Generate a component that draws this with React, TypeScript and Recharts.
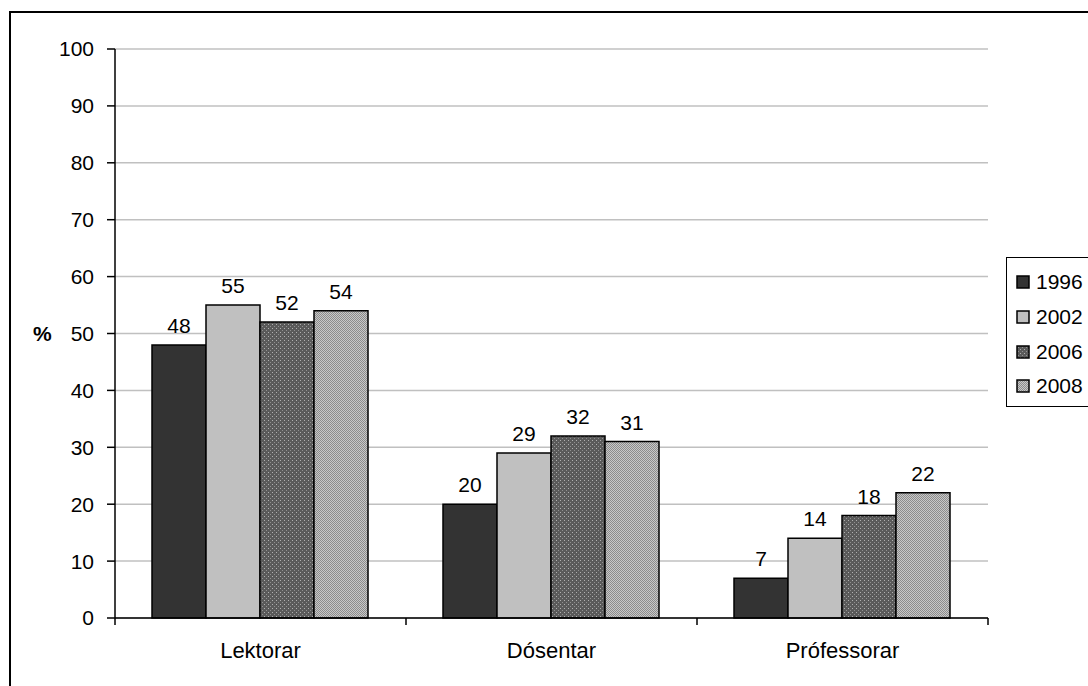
import React from 'react';
import { BarChart, Bar, XAxis, YAxis, CartesianGrid, LabelList } from 'recharts';

const categories = ['Lektorar', 'Dósentar', 'Prófessorar'];
const seriesNames = ['1996', '2002', '2006', '2008'];
const v1996 = [48, 20, 7];
const v2002 = [55, 29, 14];
const v2006 = [52, 32, 18];
const v2008 = [54, 31, 22];
const yTicks = [0, 10, 20, 30, 40, 50, 60, 70, 80, 90, 100];

const seriesValues = [v1996, v2002, v2006, v2008];
const fills = ['#333333', '#c0c0c0', 'url(#pat2006)', 'url(#pat2008)'];

const data = categories.map((c, i) => {
  const row: any = { name: c };
  seriesNames.forEach((s, k) => { row[s] = seriesValues[k][i]; });
  return row;
});

const FONT = 'Liberation Sans, Arial, sans-serif';

const XTick = (props: any) => {
  const { x, y, payload, index, width, visibleTicksCount } = props;
  const half = width / (visibleTicksCount * 2);
  const axisY = y - 8;
  return (
    <g>
      <line x1={x - half} y1={axisY} x2={x - half} y2={axisY + 7} stroke="#000" strokeWidth={1.5} />
      {index === visibleTicksCount - 1 && (
        <line x1={x + half} y1={axisY} x2={x + half} y2={axisY + 7} stroke="#000" strokeWidth={1.5} />
      )}
      <text x={x} y={axisY + 40} textAnchor="middle" fontFamily={FONT} fontSize={22} fill="#000">
        {payload.value}
      </text>
    </g>
  );
};

const Patterns = () => (
  <>
    <pattern id="pat2006" width={4} height={4} patternUnits="userSpaceOnUse">
      <rect width={4} height={4} fill="#5a5a5a" />
      <rect x={0} y={0} width={1} height={1} fill="#b0b0b0" />
      <rect x={2} y={2} width={1} height={1} fill="#909090" />
    </pattern>
    <pattern id="pat2008" width={2} height={2} patternUnits="userSpaceOnUse">
      <rect width={2} height={2} fill="#c8c8c8" />
      <rect x={0} y={0} width={1} height={1} fill="#8c8c8c" />
      <rect x={1} y={1} width={1} height={1} fill="#8c8c8c" />
    </pattern>
  </>
);

const LegendBox = () => (
  <div
    style={{
      position: 'absolute',
      left: 1006,
      top: 257,
      border: '1.5px solid #000',
      borderRight: 'none',
      width: 100,
      height: 150,
      boxSizing: 'border-box',
      paddingTop: 7,
      paddingLeft: 9,
      background: '#fff',
    }}
  >
    {seriesNames.map((s, k) => (
      <div key={s} style={{ display: 'flex', alignItems: 'center', height: 34.7 }}>
        <svg width={14} height={14} style={{ marginRight: 6 }}>
          <defs><Patterns /></defs>
          <rect x={1} y={1} width={12} height={12} fill={fills[k]} stroke="#000" strokeWidth={1.5} />
        </svg>
        <span style={{ fontFamily: FONT, fontSize: 21, color: '#000' }}>{s}</span>
      </div>
    ))}
  </div>
);

export default function App() {
  return (
    <div style={{ position: 'absolute', left: 0, top: 0, width: 1088, height: 686, overflow: 'hidden', background: '#fff' }}>
      <div
        style={{
          position: 'absolute',
          left: 9,
          top: 11,
          width: 1200,
          height: 800,
          border: '2px solid #000',
          boxSizing: 'border-box',
        }}
      />
      <div style={{ position: 'absolute', left: 0, top: 0 }}>
        <BarChart
          width={1088}
          height={686}
          data={data}
          margin={{ top: 49, right: 100, bottom: 38, left: 0 }}
          barCategoryGap={37}
          barGap={0}
        >
          <defs>
            <Patterns />
          </defs>
          <CartesianGrid vertical={false} stroke="#c0c0c0" strokeWidth={1.5} />
          <XAxis
            dataKey="name"
            height={30}
            axisLine={{ stroke: '#000', strokeWidth: 1.5 }}
            tickLine={false}
            tick={<XTick />}
            interval={0}
          />
          <YAxis
            width={115}
            domain={[0, 100]}
            ticks={yTicks}
            interval={0}
            axisLine={{ stroke: '#000', strokeWidth: 1.5 }}
            tickLine={{ stroke: '#000', strokeWidth: 1.5 }}
            tickSize={8}
            tick={{ fontFamily: FONT, fontSize: 21, fill: '#000' }}
            tickMargin={13}
            label={{ value: '%', position: 'insideLeft', offset: 33, angle: 0, style: { fontFamily: FONT, fontSize: 21, fontWeight: 'bold', fill: '#000' } }}
          />
          <YAxis
            yAxisId="right"
            orientation="right"
            width={0}
            domain={[0, 100]}
            tick={false}
            tickLine={false}
            axisLine={{ stroke: '#c0c0c0', strokeWidth: 1.5 }}
          />
          {seriesNames.map((s, k) => (
            <Bar key={s} dataKey={s} fill={fills[k]} stroke="#000" strokeWidth={1.5} isAnimationActive={false}>
              <LabelList dataKey={s} position="top" offset={12} style={{ fontFamily: FONT, fontSize: 21, fill: '#000' }} />
            </Bar>
          ))}
        </BarChart>
      </div>
      <LegendBox />
    </div>
  );
}
